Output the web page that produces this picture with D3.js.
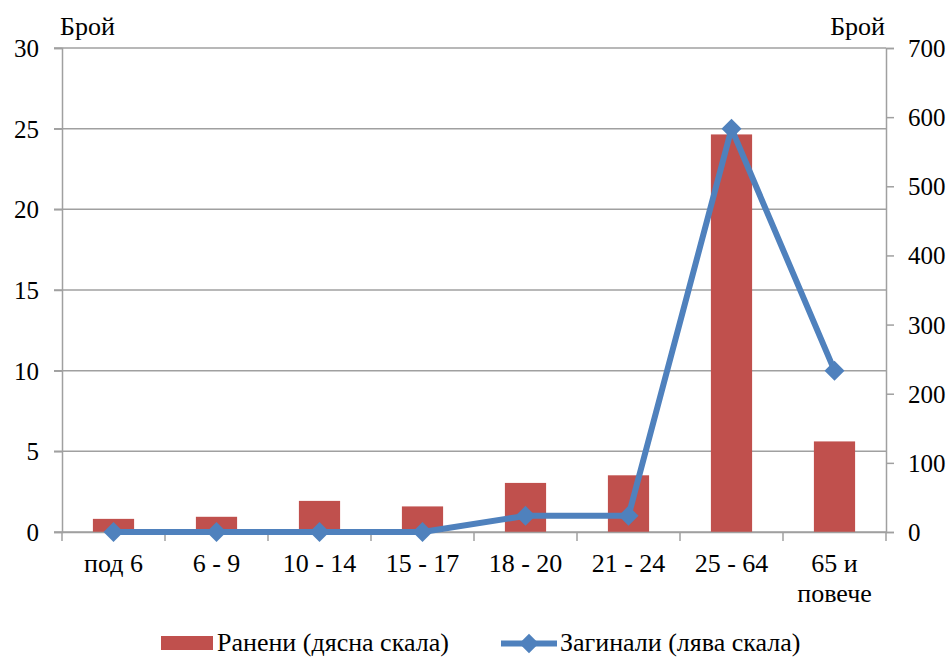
<!DOCTYPE html>
<html><head><meta charset="utf-8">
<script src="https://cdn.jsdelivr.net/npm/d3@7"></script>
<style>
body{margin:0;background:#fff}
svg text, svg tspan{font-family:"Liberation Serif", serif !important;}
</style>
</head><body><svg id="c" width="951" height="657" font-family="Liberation Serif, serif"></svg>
<script>
const categories = ["под 6","6 - 9","10 - 14","15 - 17","18 - 20","21 - 24","25 - 64","65 и|повече"];
const injured = [19, 22, 45, 37, 71, 82, 575, 131];
const killed = [0, 0, 0, 0, 1, 1, 25, 10];
const leftTicks = [0,5,10,15,20,25,30];
const rightTicks = [0,100,200,300,400,500,600,700];
const seriesNames = ["Ранени (дясна скала)", "Загинали (лява скала)"];

const FONT = "Liberation Serif, serif";
const svg = d3.select("#c");
const L = 62, R = 886, T = 48, B = 532;
const fs = 26;
const x = d3.scaleBand().domain(categories).range([L, R]).paddingInner(0.6).paddingOuter(0.3);
const xc = d3.scaleBand().domain(categories).range([L, R]);
const yL = d3.scaleLinear().domain([0,30]).range([B, T]);
const yR = d3.scaleLinear().domain([0,700]).range([B, T]);
const grey = "#a0a0a0";
const blue = "#4f81bd", red = "#c0504d";

function txt(sel, size){ return sel.attr("font-family", FONT).style("font-family", FONT).attr("font-size", size || fs).attr("fill", "#000"); }

// gridlines (left scale)
svg.append("g").selectAll("line").data(leftTicks).join("line")
  .attr("x1", L - 8).attr("x2", R).attr("y1", d => yL(d)).attr("y2", d => yL(d))
  .attr("stroke", grey).attr("stroke-width", 1.5);

function styleAxis(g){
  g.attr("font-family", FONT).attr("font-size", 25);
  g.select(".domain").attr("stroke", grey).attr("stroke-width", 1.5);
  g.selectAll(".tick line").attr("stroke", grey).attr("stroke-width", 1.5);
  txt(g.selectAll("text").attr("dy", "0.34em"), 25);
}
// left axis
const gl = svg.append("g").attr("transform", `translate(${L},0)`)
  .call(d3.axisLeft(yL).tickValues(leftTicks).tickSize(8).tickPadding(15));
styleAxis(gl);
// right axis
const gr = svg.append("g").attr("transform", `translate(${R},0)`)
  .call(d3.axisRight(yR).tickValues(rightTicks).tickSize(8).tickPadding(14));
styleAxis(gr);

// bars
svg.append("g").selectAll("rect").data(injured).join("rect")
  .attr("x", (d,i) => x(categories[i])).attr("width", x.bandwidth())
  .attr("y", d => yR(d)).attr("height", d => B - yR(d))
  .attr("fill", red);

// x axis
const gx = svg.append("g").attr("transform", `translate(0,${B})`)
  .call(d3.axisBottom(xc).tickSize(0).tickFormat(""));
gx.select(".domain").attr("stroke", grey).attr("stroke-width", 1.5);
const bounds = categories.map(c => xc(c)).concat([R]);
svg.append("g").selectAll("line").data(bounds).join("line")
  .attr("x1", d => d).attr("x2", d => d).attr("y1", B).attr("y2", B + 9)
  .attr("stroke", grey).attr("stroke-width", 1.5);
txt(svg.append("g").selectAll("text").data(categories).join("text"))
  .attr("text-anchor", "middle")
  .attr("transform", d => `translate(${xc(d) + xc.bandwidth()/2},572)`)
  .each(function(d){
    const parts = d.split("|");
    d3.select(this).selectAll("tspan").data(parts).join("tspan")
      .attr("x", 0).attr("dy", (p,i) => i ? 30 : 0).text(p => p);
  });

// line
const cx = i => xc(categories[i]) + xc.bandwidth()/2;
const lineGen = d3.line().x((d,i) => cx(i)).y(d => yL(d));
svg.append("path").datum(killed).attr("d", lineGen)
  .attr("fill", "none").attr("stroke", blue).attr("stroke-width", 6).attr("stroke-linejoin", "round");
svg.append("g").selectAll("path").data(killed).join("path")
  .attr("d", d3.symbol().type(d3.symbolSquare).size(200))
  .attr("transform", (d,i) => `translate(${cx(i)},${yL(d)}) rotate(45)`)
  .attr("fill", blue);

// axis titles
txt(svg.append("text")).attr("x", 60).attr("y", 35).text("Брой");
txt(svg.append("text")).attr("x", 885).attr("y", 35).attr("text-anchor", "end").text("Брой");

// legend
const lg = svg.append("g");
lg.append("rect").attr("x", 161).attr("y", 636).attr("width", 52).attr("height", 14).attr("fill", red);
txt(lg.append("text")).attr("x", 217).attr("y", 650.5).text(seriesNames[0]);
lg.append("line").attr("x1", 501).attr("x2", 557).attr("y1", 643.5).attr("y2", 643.5).attr("stroke", blue).attr("stroke-width", 6);
lg.append("path").attr("d", d3.symbol().type(d3.symbolSquare).size(190)).attr("transform", "translate(529,643.5) rotate(45)").attr("fill", blue);
txt(lg.append("text")).attr("x", 560).attr("y", 650.5).text(seriesNames[1]);
</script></body></html>
